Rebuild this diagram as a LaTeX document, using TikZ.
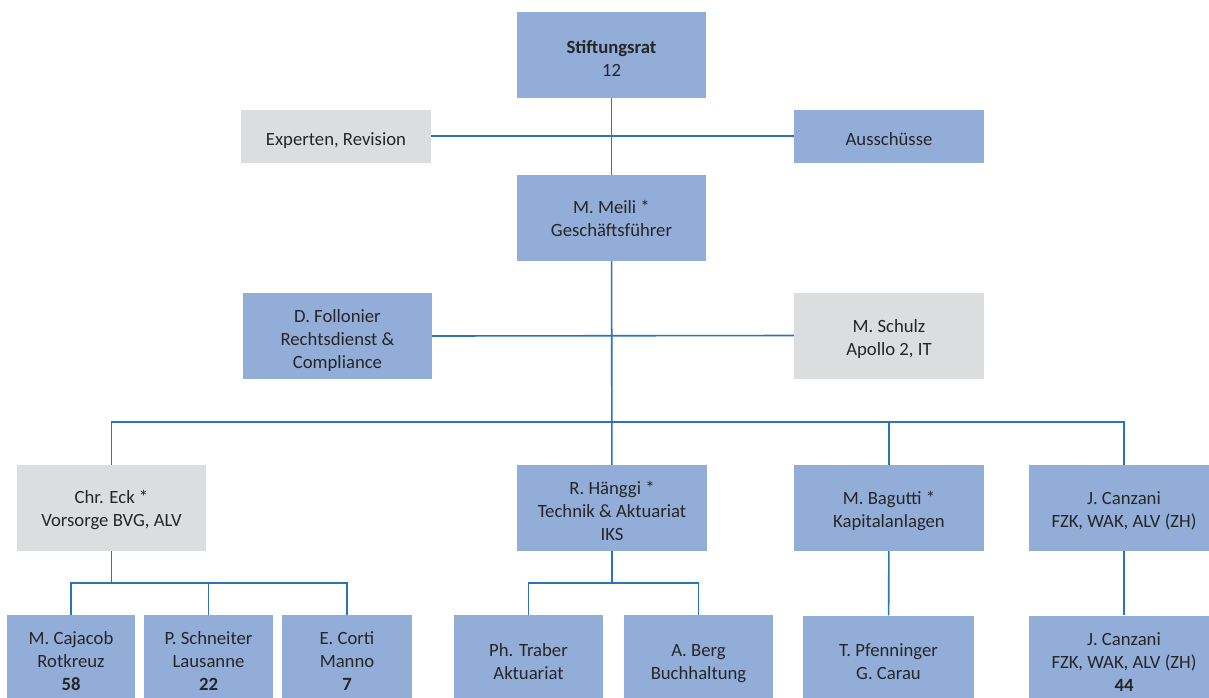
\documentclass[tikz,border=0pt]{standalone}
\usepackage{fontspec}
\setmainfont{Carlito}
\definecolor{boxblue}{HTML}{93ADD9}
\definecolor{boxgrey}{HTML}{DCDDDF}
\definecolor{linec}{HTML}{2E74B5}
\definecolor{txt}{HTML}{262626}
\begin{document}
\begin{tikzpicture}[x=1pt,y=-1pt,
  box/.style={rectangle, inner sep=0pt, align=center, text=txt,
    font=\fontsize{18.7}{23}\selectfont},
  bluebox/.style={box, fill=boxblue},
  greybox/.style={box, fill=boxgrey},
  tx/.style={text height=#1, text depth=0pt},
  conn/.style={draw=linec, line width=1.6pt}]
\useasboundingbox (0,0) rectangle (1209,697);
\clip (0,0) rectangle (1209,697);
% top
\node[bluebox, tx=42pt, minimum width=189pt, minimum height=86pt] (stift) at (611.5,55) {\textbf{Stiftungsrat}\\12};
\node[greybox, tx=19pt, minimum width=190pt, minimum height=53pt] (exp) at (336,136) {Experten, Revision};
\node[bluebox, tx=19pt, minimum width=190pt, minimum height=53pt] (aus) at (889,136) {Ausschüsse};
\node[bluebox, tx=36pt, minimum width=189pt, minimum height=86pt] (meili) at (611.5,218) {M. Meili *\\Geschäftsführer};
\node[bluebox, tx=64pt, minimum width=189pt, minimum height=86pt] (foll) at (337.5,336) {D. Follonier\\Rechtsdienst \&\\Compliance};
\node[greybox, tx=40pt, minimum width=190pt, minimum height=86pt] (schulz) at (889,335.5) {M. Schulz\\Apollo 2, IT};
% middle row
\node[greybox, tx=36pt, minimum width=189pt, minimum height=86pt] (eck) at (111.5,508) {Chr. Eck *\\Vorsorge BVG, ALV};
\node[bluebox, tx=64pt, minimum width=190pt, minimum height=86pt] (haen) at (612,508) {R. Hänggi *\\Technik \& Aktuariat\\IKS};
\node[bluebox, tx=38pt, minimum width=190pt, minimum height=86pt] (bag) at (889,508) {M. Bagutti *\\Kapitalanlagen};
\node[bluebox, tx=38pt, minimum width=190pt, minimum height=86pt] (canz) at (1124,508) {J. Canzani\\FZK, WAK, ALV (ZH)};
% bottom row
\node[bluebox, tx=59pt, minimum width=128pt, minimum height=92pt] (caj) at (71,661) {M. Cajacob\\Rotkreuz\\\textbf{58}};
\node[bluebox, tx=59pt, minimum width=129pt, minimum height=92pt] (schn) at (208.5,661) {P. Schneiter\\Lausanne\\\textbf{22}};
\node[bluebox, tx=59pt, minimum width=130pt, minimum height=92pt] (corti) at (347,661) {E. Corti\\Manno\\\textbf{7}};
\node[bluebox, tx=36pt, minimum width=149pt, minimum height=92pt] (trab) at (528.5,661) {Ph. Traber\\Aktuariat};
\node[bluebox, tx=36pt, minimum width=149pt, minimum height=92pt] (berg) at (698.5,661) {A. Berg\\Buchhaltung};
\node[bluebox, tx=36pt, minimum width=171pt, minimum height=92pt] (pfen) at (888.5,661.5) {T. Pfenninger\\G. Carau};
\node[bluebox, tx=59pt, minimum width=190pt, minimum height=92pt] (canz2) at (1124,661.5) {J. Canzani\\FZK, WAK, ALV (ZH)\\\textbf{44}};
% bus coordinates
\coordinate (bus) at (612,422);
\coordinate (busE) at (111,583);
\coordinate (busH) at (612,583);
% connectors
\draw[conn] (stift) -- (meili);
\draw[conn] (exp.east) -- (aus.west);
\draw[conn] (meili) -- (haen);
\draw[conn] (foll.east) -- (schulz.west);
\draw[conn] (eck.north) -- (eck.north |- bus) -- (canz.north |- bus) -- (canz.north);
\draw[conn] (bag.north) -- (bag.north |- bus);
\draw[conn] (eck.south) -- (eck.south |- busE);
\draw[conn] (caj.north) -- (caj.north |- busE) -- (corti.north |- busE) -- (corti.north);
\draw[conn] (schn.north) -- (schn.north |- busE);
\draw[conn] (haen.south) -- (haen.south |- busH);
\draw[conn] (trab.north) -- (trab.north |- busH) -- (berg.north |- busH) -- (berg.north);
\draw[conn] (bag) -- (pfen);
\draw[conn] (canz) -- (canz2);
\end{tikzpicture}
\end{document}
